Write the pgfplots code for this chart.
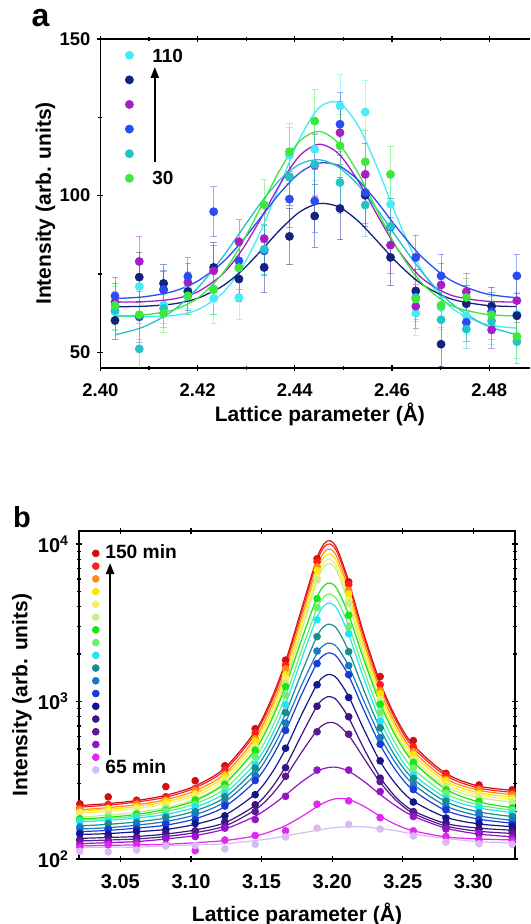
\documentclass[border=0pt]{standalone}
\usepackage{fontspec}
\setmainfont{Liberation Sans}
\usepackage{pgfplots}
\usepackage{pgfplotstable}
\pgfplotsset{compat=1.18}
\usetikzlibrary{arrows.meta}

\definecolor{ca1}{HTML}{46EBF5}
\definecolor{ca2}{HTML}{14227E}
\definecolor{ca3}{HTML}{A61EC4}
\definecolor{ca4}{HTML}{2A4CF0}
\definecolor{ca5}{HTML}{22C4C8}
\definecolor{ca6}{HTML}{3CE83C}

\definecolor{cb1}{HTML}{D01010}
\definecolor{cb2}{HTML}{FF1E1E}
\definecolor{cb3}{HTML}{FF8A1E}
\definecolor{cb4}{HTML}{FFE400}
\definecolor{cb5}{HTML}{F6F064}
\definecolor{cb6}{HTML}{C4F08C}
\definecolor{cb7}{HTML}{18E618}
\definecolor{cb8}{HTML}{6EF06E}
\definecolor{cb9}{HTML}{1EE6F5}
\definecolor{cb10}{HTML}{1A8C8C}
\definecolor{cb11}{HTML}{1A78C8}
\definecolor{cb12}{HTML}{1A3CD2}
\definecolor{cb13}{HTML}{14168C}
\definecolor{cb14}{HTML}{3A1488}
\definecolor{cb15}{HTML}{5A1A90}
\definecolor{cb16}{HTML}{9614C8}
\definecolor{cb17}{HTML}{E026F0}
\definecolor{cb18}{HTML}{D6BCF2}

% ---------------- panel a ----------------
\pgfplotstableread{
x c1 c2 c3 c4 c5 c6
2.403 61.52 64.54 66.02 67.17 55.60 61.58
2.409 61.35 64.71 66.18 67.73 58.18 61.96
2.415 61.75 65.45 67.01 69.45 63.40 63.55
2.420 63.59 67.24 69.31 72.72 70.48 67.27
2.425 68.71 71.03 74.76 78.54 80.06 74.91
2.429 76.70 75.95 82.36 85.17 88.87 84.46
2.433 88.72 82.34 92.63 93.04 97.66 96.36
2.437 103.63 89.16 103.78 100.94 105.15 108.38
2.441 118.20 94.78 112.73 107.25 110.05 117.37
2.445 128.07 97.50 116.40 110.41 111.47 120.50
2.449 129.72 96.44 113.38 109.60 109.13 116.69
2.453 122.46 91.95 104.83 105.02 103.47 107.26
2.457 108.85 85.44 93.75 97.88 95.53 95.11
2.461 93.21 78.69 83.29 89.81 86.63 83.37
2.466 76.50 71.88 73.89 80.67 75.97 72.29
2.472 64.49 67.13 68.32 73.08 65.92 65.10
2.479 59.12 65.06 66.38 68.81 58.83 62.21
2.4855 57.74 64.60 66.05 67.45 55.74 61.61
}\curveA

\pgfplotstableread{
x c1 c2 c3 c4 c5 c6 e
2.4030 62.9 60.2 66.0 68.0 63.4 65.0 6
2.4080 71.0 74.0 79.0 61.3 51.1 62.0 8
2.4130 65.1 72.0 69.9 70.1 64.0 62.4 6
2.4180 69.9 69.4 72.3 74.2 68.0 68.0 6
2.4233 67.2 77.1 76.0 94.9 70.2 70.0 8
2.4285 67.5 73.4 85.3 79.2 77.0 77.0 7
2.4337 82.8 77.1 86.3 82.4 82.9 97.1 8
2.4389 112.9 87.0 106.0 98.9 106.0 114.0 9
2.4441 114.8 93.5 109.7 98.3 110.0 123.8 10
2.4493 128.6 95.9 120.1 122.8 104.2 115.9 10
2.4545 126.7 100.1 106.8 101.0 97.0 110.8 10
2.4597 97.3 80.3 84.2 90.0 90.2 106.8 9
2.4649 62.5 69.6 64.7 80.3 67.5 67.0 7
2.4701 64.3 52.6 71.5 74.4 60.4 65.0 7
2.4753 61.7 65.5 69.3 59.6 57.4 67.5 6
2.4805 58.5 64.7 57.2 63.0 60.0 62.0 6
2.4857 62.2 61.7 66.5 74.4 53.4 55.1 7
}\dataA

% ---------------- panel b ----------------
\pgfplotstableread{
x s1 s2 s3 s4 s5 s6 s7 s8 s9 s10 s11 s12 s13 s14 s15 s16 s17 s18
3.0200 218 213 205 200 195 184 179 176 172 162 155 149 143 135 130 125 121 118
3.0414 225 220 212 207 201 190 184 181 176 166 158 152 145 137 132 127 122 119
3.0615 235 230 221 215 209 198 192 187 182 172 164 157 149 139 134 129 123 119
3.0822 254 247 238 231 224 212 207 200 192 182 173 164 154 144 139 134 124 121
3.1030 291 283 271 261 252 240 235 224 213 202 191 180 166 153 147 141 127 123
3.1240 379 366 348 334 319 305 301 279 262 246 231 215 190 170 162 155 131 125
3.1455 648 623 586 555 523 497 494 442 404 374 344 312 259 219 205 187 140 131
3.1570 1039 995 932 876 820 777 762 669 603 544 491 438 349 282 255 218 150 135
3.1670 1794 1714 1599 1498 1395 1316 1252 1084 965 841 738 650 500 387 332 255 163 140
3.1780 3785 3610 3357 3136 2908 2736 2418 2070 1827 1496 1249 1089 813 605 471 307 185 146
3.1893 8151 7768 7215 6728 6226 5851 4596 3912 3436 2601 2026 1757 1287 937 656 360 215 152
3.1945 10078 9603 8917 8313 7691 7225 5456 4640 4072 3008 2290 1983 1448 1049 718 376 228 155
3.1985 10481 9988 9274 8645 7998 7513 5651 4804 4216 3099 2348 2033 1484 1074 737 382 236 157
3.2035 9319 8881 8247 7689 7115 6685 5186 4411 3873 2882 2210 1914 1399 1015 718 382 242 159
3.2117 5789 5519 5129 4785 4432 4166 3551 3028 2664 2087 1677 1457 1075 788 610 361 239 160
3.2225 2678 2556 2381 2227 2068 1948 1834 1576 1395 1176 1005 880 664 502 436 311 216 160
3.2340 1322 1265 1183 1111 1038 981 969 844 756 672 598 531 416 330 307 257 187 156
3.2455 779 748 704 665 626 594 594 527 479 438 400 361 296 245 235 216 165 151
3.2575 529 509 483 459 435 416 413 374 345 322 298 273 233 202 195 187 151 144
3.2806 349 338 323 311 298 287 277 259 245 231 217 203 184 168 162 157 138 135
3.3040 290 282 273 263 254 245 230 220 211 199 188 179 167 157 150 144 134 129
3.3300 272 264 255 246 238 229 210 203 196 185 175 168 160 152 145 138 132 126
}\curveB

\pgfplotstableread{
x s1 s2 s3 s4 s5 s6 s7 s8 s9 s10 s11 s12 s13 s14 s15 s16 s17 s18
3.0213 224 211 206 198 196 182 180 174 173 160 156 147 144 133 131 124 119 112
3.0414 248 222 210 209 200 192 183 183 175 168 157 154 144 139 131 128 123 111
3.0615 236 229 223 214 210 197 193 186 183 171 165 156 150 138 135 128 124 114
3.0822 288 249 236 233 222 214 205 202 190 184 171 166 153 146 138 135 123 121
3.1030 314 280 273 259 254 238 237 222 215 200 193 178 168 151 149 139 113 122
3.1240 391 369 345 337 316 308 298 282 260 248 228 217 188 172 160 157 132 116
3.1455 672 630 580 560 518 502 490 446 400 378 340 315 256 221 200 178 141 124
3.1670 1830 1700 1610 1480 1410 1300 1240 1095 955 850 730 655 505 380 335 250 151 138
3.1893 8050 7700 7150 6800 6150 5900 4500 3950 3300 2580 2090 1740 1277 933 642 367 223 157
3.2117 5750 5550 5080 4820 4400 4200 3530 3000 2690 2070 1690 1480 1060 800 620 367 234 166
3.2340 1440 1280 1170 1120 1030 990 960 850 750 680 590 535 420 326 310 268 183 155
3.2575 565 515 480 462 430 420 410 378 342 325 295 276 230 200 197 186 151 140
3.2806 350 340 320 314 296 290 275 262 243 233 215 205 182 170 160 155 139 128
3.3040 295 280 275 261 256 243 232 218 212 197 190 177 168 155 144 146 133 125
3.3275 275 262 256 244 239 228 211 204 195 186 176 166 161 151 146 137 131 124
}\dataB

\begin{document}
\begin{tikzpicture}
\useasboundingbox (0,0) rectangle (265pt,-462pt);

\node[anchor=base west, inner sep=0pt, font=\fontsize{16}{16}\selectfont\bfseries] at (15.6pt,-13.5pt) {a};
\node[anchor=base west, inner sep=0pt, font=\fontsize{14.5}{14.5}\selectfont\bfseries] at (6.4pt,-263.5pt) {b};

% ================= panel a =================
\begin{axis}[
  at={(50.2pt,-184pt)}, anchor=south west,
  scale only axis, width=214.8pt, height=164.5pt,
  xmin=2.40, xmax=2.4884, ymin=45, ymax=150,
  axis x line*=box, axis y line*=left,
  xtick={2.40,2.42,2.44,2.46,2.48}, minor x tick num=1,
  ytick={50,100,150}, minor y tick num=1,
  tick align=center, major tick length=3pt, minor tick length=2pt,
  tick style={black, line width=0.6pt},
  axis line style={line width=0.7pt},
  ticklabel style={font=\fontsize{9.2}{10}\selectfont\bfseries},
  /pgf/number format/assume math mode=true,
  xticklabel style={yshift=-3pt, /pgf/number format/.cd, fixed, fixed zerofill, precision=2},
  xlabel={Lattice parameter (Å)}, ylabel={Intensity (arb. units)},
  label style={font=\fontsize{10.5}{12}\selectfont\bfseries},
  xlabel style={at={(axis description cs:0.511,-0.14)}, anchor=center},
  ylabel style={at={(axis description cs:-0.128,0.5)}, anchor=center},
  legend entries={{\phantom{0}},{\phantom{0}},{\phantom{0}},{\phantom{0}},{\phantom{0}},{\phantom{0}}},
  legend style={draw=none, fill=none, at={(0.0433,0.976)}, anchor=north west,
    font=\fontsize{9.5}{10}\selectfont\bfseries, row sep=3.4pt,
    nodes={inner sep=0pt, text height=7pt, text depth=0pt},
    /tikz/every odd column/.append style={column sep=10pt}},
  legend image code/.code={\draw[#1] plot coordinates {(0pt,3.4pt)};},
]
\pgfplotsinvokeforeach{1,...,6}{
  \addplot[only marks, mark=*, mark size=2pt, color=ca#1,
    error bars/y dir=both, error bars/y explicit,
    error bars/error bar style={line width=0.4pt, opacity=0.45},
    error bars/error mark options={rotate=90, mark size=1.6pt, line width=0.4pt, opacity=0.45}]
    table[x=x, y=c#1, y error=e]{\dataA};
}
\pgfplotsinvokeforeach{1,...,6}{
  \addplot[forget plot, smooth, no markers, color=ca#1, line width=0.65pt]
    table[x=x, y=c#1]{\curveA};
}
\draw[-{Triangle[length=5.5pt,width=4pt]}, line width=1pt] (axis cs:2.4112,110.8) -- (axis cs:2.4112,141.1);
\node[anchor=west, inner sep=0pt, font=\fontsize{9.5}{10}\selectfont\bfseries] at (rel axis cs:0.1201,0.9483) {110};
\node[anchor=west, inner sep=0pt, font=\fontsize{9.5}{10}\selectfont\bfseries] at (rel axis cs:0.1201,0.5766) {30};
\end{axis}

% ================= panel b =================
\begin{axis}[
  at={(39.5pt,-429.5pt)}, anchor=south west,
  scale only axis, width=218pt, height=164pt,
  ymode=log, xmin=3.0207, xmax=3.3295, ymin=100, ymax=12090,
  xtick={3.05,3.10,3.15,3.20,3.25,3.30},
  ytick={100,1000,10000},
  yticklabels={10\textsuperscript{2},10\textsuperscript{3},10\textsuperscript{4}},
  minor ytick={200,300,400,500,600,700,800,900,2000,3000,4000,5000,6000,7000,8000,9000},
  tick align=center, major tick length=3pt, minor tick length=2pt,
  tick style={black, line width=0.6pt},
  axis line style={line width=0.75pt},
  ticklabel style={font=\fontsize{10}{11}\selectfont\bfseries},
  /pgf/number format/assume math mode=true,
  xticklabel style={yshift=-2.5pt, /pgf/number format/.cd, fixed, fixed zerofill, precision=2},
  xlabel={Lattice parameter (Å)}, ylabel={Intensity (arb. units)},
  label style={font=\fontsize{10.5}{12}\selectfont\bfseries},
  xlabel style={at={(axis description cs:0.5,-0.168)}, anchor=center},
  ylabel style={at={(axis description cs:-0.1307,0.5)}, anchor=center},
  legend entries={{\phantom{0}},{\phantom{0}},{\phantom{0}},{\phantom{0}},{\phantom{0}},{\phantom{0}},{\phantom{0}},{\phantom{0}},{\phantom{0}},{\phantom{0}},{\phantom{0}},{\phantom{0}},{\phantom{0}},{\phantom{0}},{\phantom{0}},{\phantom{0}},{\phantom{0}},{\phantom{0}}},
  legend style={draw=none, fill=none, at={(0.016,0.9555)}, anchor=north west,
    font=\fontsize{9.6}{10}\selectfont\bfseries, row sep=-1.33pt,
    nodes={inner sep=0pt, text height=5pt, text depth=0pt},
    /tikz/every odd column/.append style={column sep=3.2pt}},
  legend image code/.code={\draw[#1] plot coordinates {(0pt,3.5pt)};},
]
\pgfplotsinvokeforeach{1,...,18}{
  \addplot[forget plot, smooth, no markers, color=cb#1, line width=0.6pt]
    table[x=x, y=s#1]{\curveB};
}
\pgfplotsinvokeforeach{1,...,18}{
  \addplot[only marks, mark=*, mark size=1.7pt, color=cb#1]
    table[x=x, y=s#1]{\dataB};
}
\draw[-{Triangle[length=5.5pt,width=4pt]}, line width=1pt] (axis cs:3.0427,457) -- (axis cs:3.0427,7570);
\node[anchor=west, inner sep=0pt, font=\fontsize{9.6}{10}\selectfont\bfseries] at (rel axis cs:0.0596,0.9369) {150 min};
\node[anchor=west, inner sep=0pt, font=\fontsize{9.6}{10}\selectfont\bfseries] at (rel axis cs:0.0596,0.2814) {65 min};
\end{axis}
\end{tikzpicture}
\end{document}
